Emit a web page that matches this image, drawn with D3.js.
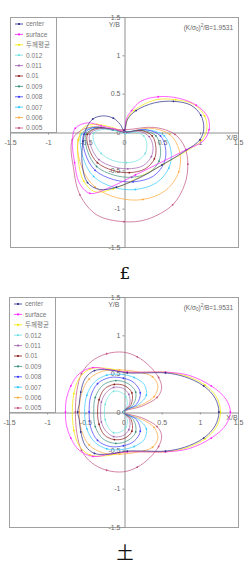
<!DOCTYPE html>
<html>
<head>
<meta charset="utf-8">
<script src="https://cdn.jsdelivr.net/npm/d3@7"></script>
<style>
  body { margin: 0; background: #fff; }
  text { font-family: Arial, "Liberation Sans", "Noto Sans CJK KR", sans-serif; }
</style>
</head>
<body>
<div id="chart"></div>
<script>
// legend names, same order for both panels
const seriesNames = ["center", "surface", "두께평균", "0.012", "0.011", "0.01", "0.009", "0.008", "0.007", "0.006", "0.005"];
const tickValues = [-1.5, -1, -0.5, 0, 0.5, 1, 1.5];
const tickLabels = ["-1.5", "-1", "-0.5", "0", "0.5", "1", "1.5"];
const captions = ["£", "土"];

// ---- upper panel (x/B, y/B) ----
const topCenter = [[0,0.02],[0.05,0.17],[0.16,0.28],[0.4,0.38],[0.65,0.4],[0.88,0.35],[1.01,0.22],[1.05,0.05],[1.0,-0.1],[0.8,-0.25],[0.5,-0.43],[0.2,-0.6],[-0.1,-0.72],[-0.32,-0.75],[-0.48,-0.66],[-0.55,-0.42],[-0.54,-0.12],[-0.49,0.06],[-0.41,0.17],[-0.28,0.21],[-0.14,0.18],[-0.05,0.1]];
const topSurface = [[0,0.02],[0.03,0.17],[0.1,0.28],[0.22,0.4],[0.45,0.46],[0.72,0.44],[0.95,0.35],[1.1,0.2],[1.12,0.03],[1.04,-0.12],[0.82,-0.23],[0.5,-0.39],[0.15,-0.56],[-0.18,-0.72],[-0.45,-0.8],[-0.59,-0.66],[-0.65,-0.4],[-0.68,-0.12],[-0.64,0.05],[-0.48,0.12],[-0.3,0.08],[-0.12,0.04]];
const topAvg = [[0,0.02],[0.04,0.16],[0.13,0.28],[0.42,0.42],[0.68,0.42],[0.92,0.36],[1.06,0.21],[1.09,0.04],[1.02,-0.11],[0.82,-0.25],[0.52,-0.42],[0.18,-0.6],[-0.14,-0.74],[-0.38,-0.78],[-0.53,-0.64],[-0.6,-0.38],[-0.6,-0.1],[-0.53,0.06],[-0.36,0.1],[-0.16,0.06]];
const top012 = [[0.02,-0.02],[0.15,0.0],[0.26,-0.05],[0.3,-0.15],[0.28,-0.28],[0.18,-0.37],[0.03,-0.4],[-0.15,-0.37],[-0.3,-0.28],[-0.39,-0.14],[-0.4,-0.02],[-0.3,0.03],[-0.12,0.02]];
const top011 = [[0.02,-0.01],[0.2,0.01],[0.33,-0.06],[0.38,-0.18],[0.36,-0.32],[0.25,-0.44],[0.05,-0.48],[-0.15,-0.45],[-0.33,-0.36],[-0.43,-0.2],[-0.45,-0.03],[-0.33,0.04],[-0.12,0.03]];
const top010 = [[0.02,-0.01],[0.22,0.02],[0.37,-0.05],[0.42,-0.2],[0.4,-0.35],[0.28,-0.48],[0.07,-0.53],[-0.15,-0.5],[-0.35,-0.4],[-0.46,-0.22],[-0.48,-0.03],[-0.35,0.05],[-0.13,0.03]];
const top009 = [[0.02,0],[0.25,0.02],[0.42,-0.05],[0.48,-0.22],[0.46,-0.38],[0.33,-0.53],[0.1,-0.59],[-0.14,-0.56],[-0.36,-0.45],[-0.48,-0.25],[-0.5,-0.03],[-0.37,0.05],[-0.14,0.03]];
const top008 = [[0.02,0],[0.28,0.03],[0.48,-0.05],[0.55,-0.24],[0.52,-0.42],[0.38,-0.58],[0.12,-0.65],[-0.14,-0.62],[-0.38,-0.5],[-0.51,-0.28],[-0.53,-0.03],[-0.39,0.06],[-0.15,0.03]];
const top007 = [[0.02,0],[0.3,0.03],[0.53,-0.05],[0.62,-0.26],[0.59,-0.47],[0.43,-0.66],[0.15,-0.75],[-0.14,-0.72],[-0.4,-0.58],[-0.54,-0.33],[-0.56,-0.03],[-0.41,0.06],[-0.16,0.03]];
const top006 = [[0.02,0],[0.33,0.05],[0.6,-0.03],[0.73,-0.25],[0.72,-0.52],[0.55,-0.76],[0.25,-0.88],[-0.08,-0.86],[-0.38,-0.72],[-0.56,-0.45],[-0.6,-0.1],[-0.45,0.06],[-0.18,0.04]];
const top005 = [[0.02,0.03],[0.4,0.06],[0.67,-0.03],[0.8,-0.2],[0.84,-0.42],[0.8,-0.68],[0.64,-0.95],[0.3,-1.14],[0.0,-1.17],[-0.36,-1.08],[-0.58,-0.82],[-0.66,-0.5],[-0.68,-0.1],[-0.5,0.05],[-0.2,0.04]];

// ---- lower panel ----
const botCenter = [[1.25,0],[1.2,0.18],[1.05,0.34],[0.8,0.46],[0.55,0.51],[0.3,0.51],[0.05,0.51],[-0.2,0.55],[-0.38,0.54],[-0.5,0.44],[-0.56,0.26],[-0.58,0.1],[-0.6,0],[-0.58,-0.1],[-0.56,-0.26],[-0.5,-0.44],[-0.38,-0.54],[-0.2,-0.55],[0.05,-0.51],[0.3,-0.51],[0.55,-0.51],[0.8,-0.46],[1.05,-0.34],[1.2,-0.18]];
const botSurface = [[1.4,0],[1.34,0.17],[1.15,0.34],[0.85,0.48],[0.55,0.52],[0.3,0.52],[0.05,0.52],[-0.18,0.55],[-0.4,0.58],[-0.58,0.5],[-0.69,0.34],[-0.75,0.16],[-0.76,0],[-0.75,-0.16],[-0.69,-0.34],[-0.58,-0.5],[-0.4,-0.58],[-0.18,-0.55],[0.05,-0.52],[0.3,-0.52],[0.55,-0.52],[0.85,-0.48],[1.15,-0.34],[1.34,-0.17]];
const botAvg = [[1.27,0],[1.22,0.19],[1.07,0.35],[0.82,0.47],[0.55,0.52],[0.3,0.52],[0.05,0.52],[-0.22,0.57],[-0.44,0.56],[-0.58,0.44],[-0.65,0.24],[-0.67,0],[-0.65,-0.24],[-0.58,-0.44],[-0.44,-0.56],[-0.22,-0.57],[0.05,-0.52],[0.3,-0.52],[0.55,-0.52],[0.82,-0.47],[1.07,-0.35],[1.22,-0.19]];
const bot012 = [[0,0],[0.05,0.1],[0.03,0.2],[-0.04,0.26],[-0.13,0.27],[-0.2,0.2],[-0.24,0.1],[-0.25,0],[-0.24,-0.1],[-0.2,-0.2],[-0.13,-0.27],[-0.04,-0.26],[0.03,-0.2],[0.05,-0.1]];
const bot011 = [[0,0],[0.08,0.1],[0.07,0.23],[-0.01,0.31],[-0.13,0.32],[-0.23,0.25],[-0.29,0.13],[-0.3,0],[-0.29,-0.13],[-0.23,-0.25],[-0.13,-0.32],[-0.01,-0.31],[0.07,-0.23],[0.08,-0.1]];
const bot010 = [[0,0],[0.1,0.1],[0.11,0.25],[0.02,0.34],[-0.12,0.36],[-0.25,0.3],[-0.32,0.16],[-0.34,0],[-0.32,-0.16],[-0.25,-0.3],[-0.12,-0.36],[0.02,-0.34],[0.11,-0.25],[0.1,-0.1]];
const bot009 = [[0,0],[0.13,0.1],[0.16,0.26],[0.06,0.37],[-0.1,0.41],[-0.27,0.35],[-0.37,0.19],[-0.39,0],[-0.37,-0.19],[-0.27,-0.35],[-0.1,-0.41],[0.06,-0.37],[0.16,-0.26],[0.13,-0.1]];
const bot008 = [[0,0],[0.17,0.1],[0.22,0.25],[0.14,0.38],[0,0.44],[-0.18,0.45],[-0.34,0.37],[-0.43,0.2],[-0.45,0],[-0.43,-0.2],[-0.34,-0.37],[-0.18,-0.45],[0,-0.44],[0.14,-0.38],[0.22,-0.25],[0.17,-0.1]];
const bot007 = [[0,0],[0.2,0.1],[0.3,0.22],[0.27,0.36],[0.14,0.45],[-0.03,0.49],[-0.22,0.48],[-0.38,0.39],[-0.48,0.22],[-0.51,0],[-0.48,-0.22],[-0.38,-0.39],[-0.22,-0.48],[-0.03,-0.49],[0.14,-0.45],[0.27,-0.36],[0.3,-0.22],[0.2,-0.1]];
const bot006 = [[0,0],[0.25,0.1],[0.4,0.2],[0.45,0.34],[0.38,0.46],[0.2,0.52],[-0.05,0.55],[-0.28,0.53],[-0.45,0.43],[-0.55,0.24],[-0.58,0],[-0.55,-0.24],[-0.45,-0.43],[-0.28,-0.53],[-0.05,-0.55],[0.2,-0.52],[0.38,-0.46],[0.45,-0.34],[0.4,-0.2],[0.25,-0.1]];
const bot005 = [[0,0],[0.25,0.08],[0.44,0.19],[0.5,0.31],[0.46,0.45],[0.34,0.6],[0.18,0.72],[0,0.78],[-0.22,0.76],[-0.42,0.66],[-0.55,0.5],[-0.61,0.28],[-0.63,0],[-0.61,-0.28],[-0.55,-0.5],[-0.42,-0.66],[-0.22,-0.76],[0,-0.78],[0.18,-0.72],[0.34,-0.6],[0.46,-0.45],[0.5,-0.31],[0.44,-0.19],[0.25,-0.08]];

const colors = ["#2a2a88", "#ff20ff", "#f2e600", "#70e0e0", "#a060b0", "#8a1a1a", "#3a9080", "#3a3aff", "#30c8ff", "#ffa838", "#c05080"];

const W = 251, H = 562;
const svg = d3.select("#chart").append("svg")
  .attr("width", W).attr("height", H)
  .style("background", "#fff");

function drawPanel(cfg) {
  const x = d3.scaleLinear().domain([-1.5, 1.5]).range([cfg.left, 238]);
  const y = d3.scaleLinear().domain([-1.5, 1.5]).range([cfg.bottom, cfg.top]);
  const g = svg.append("g");

  // frame
  g.append("rect")
    .attr("x", cfg.left + 0.5).attr("y", cfg.top + 0.5)
    .attr("width", 238 - cfg.left).attr("height", cfg.bottom - cfg.top)
    .attr("fill", "none").attr("stroke", "#a0a0a0").attr("stroke-width", 1);

  // axes through origin
  const fmt = d => tickLabels[tickValues.indexOf(d)];
  const xAxis = g.append("g")
    .attr("transform", `translate(0,${Math.round(y(0)) + 0.5})`)
    .call(d3.axisBottom(x).tickValues(tickValues).tickSize(2).tickSizeOuter(0).tickPadding(6).tickFormat(fmt));
  const yAxis = g.append("g")
    .attr("transform", `translate(${Math.round(x(0)) + 0.5},0)`)
    .call(d3.axisLeft(y).tickValues(tickValues).tickSize(2).tickSizeOuter(0).tickPadding(2).tickFormat(fmt));
  [xAxis, yAxis].forEach(a => {
    a.select(".domain").attr("stroke", "#909090");
    a.selectAll(".tick line").attr("stroke", "#909090");
    a.selectAll(".tick text").attr("fill", "#666").style("font-size", "7px")
      .style("font-family", "Arial, 'Liberation Sans', sans-serif");
  });

  g.append("text").attr("x", x(0) - 4).attr("y", cfg.top + 10)
    .attr("text-anchor", "end").attr("fill", "#666").style("font-size", "7px").text("Y/B");
  g.append("text").attr("x", 232).attr("y", y(0) + 8)
    .attr("text-anchor", "middle").attr("fill", "#666").style("font-size", "7px").text("X/B");

  // annotation
  const ann = g.append("text").attr("x", 233).attr("y", cfg.top + 12.5)
    .attr("text-anchor", "end").attr("fill", "#666").style("font-size", "6.5px");
  ann.append("tspan").text("(K/σ");
  ann.append("tspan").attr("dy", 1.5).style("font-size", "4.5px").text("0");
  ann.append("tspan").attr("dy", -1.5).text(")");
  ann.append("tspan").attr("dy", -2.5).style("font-size", "4.5px").text("2");
  ann.append("tspan").attr("dy", 2.5).text("/B=1.9531");

  // curves, innermost contour drawn first, center on top
  const line = d3.line()
    .x(d => x(d[0])).y(d => y(d[1]))
    .curve(d3.curveCatmullRomClosed.alpha(0.5));
  const order = d3.range(seriesNames.length).reverse();
  order.forEach(i => {
    const pts = cfg.data[i];
    g.append("path").datum(pts)
      .attr("d", line)
      .attr("fill", "none")
      .attr("stroke", colors[i])
      .attr("stroke-width", 0.7);
    g.selectAll(null).data(pts.filter((d, k) => k % 2 === 0)).enter().append("circle")
      .attr("cx", d => x(d[0])).attr("cy", d => y(d[1]))
      .attr("r", 0.9).attr("fill", colors[i]);
  });

  // legend
  const legBottom = Math.round(y(0));
  const lg = g.append("g");
  lg.append("rect")
    .attr("x", cfg.left + 0.5).attr("y", cfg.top + 0.5)
    .attr("width", 46).attr("height", legBottom - cfg.top)
    .attr("fill", "#fff").attr("stroke", "#a0a0a0").attr("stroke-width", 1);
  seriesNames.forEach((name, i) => {
    const ly = cfg.top + 7 + i * 10.4;
    lg.append("line")
      .attr("x1", cfg.left + 5).attr("x2", cfg.left + 13)
      .attr("y1", ly).attr("y2", ly)
      .attr("stroke", colors[i]).attr("stroke-width", 0.8);
    lg.append("circle").attr("cx", cfg.left + 9).attr("cy", ly).attr("r", 1.1).attr("fill", colors[i]);
    lg.append("text").attr("x", cfg.left + 16).attr("y", ly + 2.3)
      .attr("fill", "#777").style("font-size", "6.5px").text(name);
  });

  // caption under the panel
  svg.append("text").attr("x", 125).attr("y", cfg.captionY)
    .attr("text-anchor", "middle").attr("fill", "#111")
    .style("font-size", "17px")
    .style("font-family", "'DejaVu Serif', 'Noto Sans CJK KR', serif")
    .text(cfg.caption);
}

drawPanel({
  left: 10, top: 17, bottom: 247, captionY: 279, caption: captions[0],
  data: [topCenter, topSurface, topAvg, top012, top011, top010, top009, top008, top007, top006, top005]
});
drawPanel({
  left: 9, top: 297, bottom: 527, captionY: 559, caption: captions[1],
  data: [botCenter, botSurface, botAvg, bot012, bot011, bot010, bot009, bot008, bot007, bot006, bot005]
});
</script>
</body>
</html>
